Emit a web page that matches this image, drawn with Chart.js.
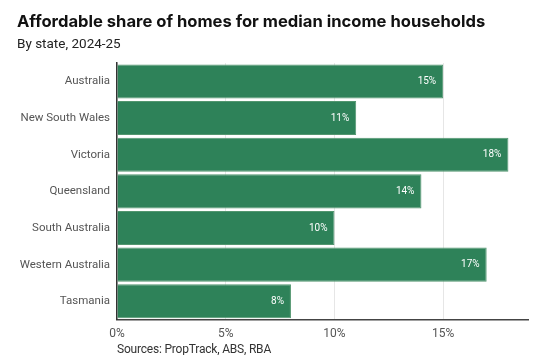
<!DOCTYPE html>
<html>
<head>
<meta charset="utf-8">
<script src="https://cdn.jsdelivr.net/npm/chart.js@4"></script>
<style>
  html, body { margin: 0; padding: 0; background: #fff; }
  #wrap { position: relative; width: 554px; height: 355px; }
  canvas { position: absolute; left: 0; top: 0; }
  #source { position: absolute; left: 117px; top: 342px; font: 12px Roboto, "Liberation Sans", sans-serif; letter-spacing: -0.2px; color: #333; white-space: nowrap; }
</style>
</head>
<body>
<div id="wrap">
  <canvas id="c" width="554" height="355"></canvas>
  <div id="source">Sources: PropTrack, ABS, RBA</div>
</div>
<script>
const categories = ["Australia", "New South Wales", "Victoria", "Queensland", "South Australia", "Western Australia", "Tasmania"];
const shareValues = [15, 11, 18, 14, 10, 17, 8];
const tickValues = [0, 5, 10, 15];
const titleText = "Affordable share of homes for median income households";
const subtitleText = "By state, 2024-25";

const barLabels = {
  id: 'barLabels',
  afterDatasetsDraw(chart) {
    const ctx = chart.ctx;
    const meta = chart.getDatasetMeta(0);
    ctx.save();
    ctx.fillStyle = '#ffffff';
    ctx.font = '10px Roboto, "Liberation Sans", sans-serif';
    ctx.textAlign = 'right';
    ctx.textBaseline = 'middle';
    meta.data.forEach((bar, i) => {
      ctx.fillText(shareValues[i] + '%', bar.x - 7, bar.y);
    });
    ctx.restore();
  }
};

new Chart(document.getElementById('c'), {
  type: 'bar',
  data: {
    labels: categories,
    datasets: [{
      data: shareValues,
      backgroundColor: '#2e8259',
      borderColor: '#52966f',
      borderWidth: 1,
      borderSkipped: 'start',
      barPercentage: 0.93,
      categoryPercentage: 1.0
    }]
  },
  options: {
    indexAxis: 'y',
    responsive: false,
    animation: false,
    layout: { padding: { left: 17, right: 26, top: 7, bottom: 7 } },
    plugins: {
      legend: { display: false },
      tooltip: { enabled: false },
      title: {
        display: true, text: titleText, align: 'start', color: '#111',
        font: { family: 'Inter', size: 16.6, weight: 'bold' },
        padding: { top: 5, bottom: 5 }
      },
      subtitle: {
        display: true, text: subtitleText, align: 'start', color: '#222',
        font: { family: 'Roboto', size: 13.5 },
        padding: { top: 0, bottom: 10 }
      }
    },
    scales: {
      x: {
        min: 0, max: 18.9,
        afterBuildTicks(scale) { scale.ticks = tickValues.map(v => ({ value: v })); },
        grid: { color: '#e6e6e6', lineWidth: 1, drawTicks: false },
        border: { color: '#444', width: 1.5 },
        ticks: { color: '#555', font: { family: 'Roboto', size: 12 }, padding: 7, callback: v => v + '%' }
      },
      y: {
        afterFit(scale) { scale.width = 100; },
        grid: { display: false, drawTicks: false },
        border: { color: '#333', width: 1.5 },
        ticks: { color: '#555', font: { family: 'Roboto', size: 11.5 }, padding: 7 }
      }
    }
  },
  plugins: [barLabels]
});
</script>
</body>
</html>
